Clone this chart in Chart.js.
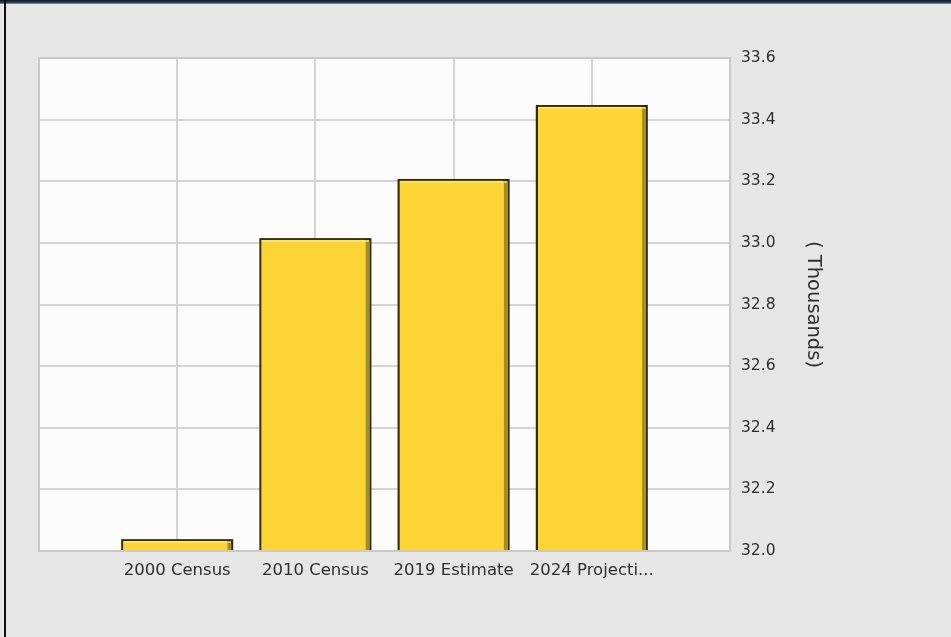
<!DOCTYPE html>
<html>
<head>
<meta charset="utf-8">
<script src="https://cdn.jsdelivr.net/npm/chart.js@4"></script>
<style>
  html, body { margin: 0; padding: 0; background: #e6e6e6; }
  #wrap { position: relative; width: 951px; height: 637px; background: #e6e6e6; overflow: hidden; }
  #topbar { position: absolute; left: 0; top: 0; width: 951px; height: 4px;
            background: linear-gradient(#0e1a26, #2a3c50 60%, #8a9aae); }
  #leftbar { position: absolute; left: 4px; top: 0; width: 2px; height: 637px; background: #111; }
  canvas { position: absolute; left: 0; top: 0; }
</style>
</head>
<body>
<div id="wrap">
  <canvas id="c" width="951" height="637"></canvas>
  <div id="topbar"></div>
  <div id="leftbar"></div>
</div>
<script>
// Data (values in thousands)
const categories = ["", "2000 Census", "2010 Census", "2019 Estimate", "2024 Projecti...", ""];
const populationThousands = [null, 32.036, 33.013, 33.205, 33.445, null];
const yTicks = [32.0, 32.2, 32.4, 32.6, 32.8, 33.0, 33.2, 33.4, 33.6];
const yAxisTitle = "( Thousands)";

// 3D-style shading on the right edge of each bar, drawn from the bar elements' own geometry
const barShade = {
  id: 'barShade',
  afterDatasetsDraw(chart) {
    const ctx = chart.ctx;
    const a = chart.chartArea;
    const meta = chart.getDatasetMeta(0);
    const values = chart.data.datasets[0].data;
    ctx.save();
    ctx.beginPath();
    ctx.rect(a.left, a.top, a.right - a.left, a.bottom - a.top);
    ctx.clip();
    meta.data.forEach((bar, i) => {
      if (values[i] == null) return;
      const p = bar.getProps(['x', 'y', 'base', 'width'], true);
      const left = p.x - p.width / 2;
      const right = p.x + p.width / 2;
      const top = p.y;
      const bottom = Math.min(p.base, a.bottom) + 2;
      ctx.fillStyle = '#a88f14';
      ctx.fillRect(right - 5, top + 3, 4, bottom - top - 3);
      ctx.fillStyle = '#fde56a';
      ctx.fillRect(left + 1.5, top + 1, right - left - 7, 2);
      ctx.strokeStyle = '#2e2a18';
      ctx.lineWidth = 1.5;
      ctx.strokeRect(left, top, right - left, bottom - top);
    });
    ctx.restore();
  }
};

const plotBg = {
  id: 'plotBg',
  beforeDraw(chart) {
    const { ctx, chartArea: a } = chart;
    ctx.save();
    ctx.fillStyle = '#fdfcfd';
    ctx.fillRect(a.left, a.top, a.right - a.left, a.bottom - a.top);
    ctx.restore();
  },
  afterDraw(chart) {
    const { ctx, chartArea: a } = chart;
    ctx.save();
    ctx.strokeStyle = '#c9c9c9';
    ctx.lineWidth = 2;
    ctx.strokeRect(a.left, a.top, a.right - a.left, a.bottom - a.top);
    ctx.restore();
  }
};

new Chart(document.getElementById('c'), {
  type: 'bar',
  data: {
    labels: categories,
    datasets: [{
      data: populationThousands,
      backgroundColor: '#fcd535',
      borderColor: '#2e2a18',
      borderWidth: 1.5,
      barPercentage: 0.8,
      categoryPercentage: 1.0
    }]
  },
  plugins: [plotBg, barShade],
  options: {
    responsive: false,
    animation: false,
    events: [],
    layout: { padding: { left: 39, top: 58, right: 124, bottom: 46 } },
    plugins: { legend: { display: false }, tooltip: { enabled: false } },
    scales: {
      x: {
        offset: false,
        grid: { color: '#d4d4d4', lineWidth: 2, drawTicks: false, offset: false },
        border: { display: false },
        ticks: {
          padding: 10,
          color: '#2e2e2e',
          font: { family: 'DejaVu Sans', size: 16.5 },
          maxRotation: 0,
          autoSkip: false
        },
        afterFit(s) { s.height = 40; }
      },
      y: {
        position: 'right',
        min: 32.0,
        max: 33.6,
        afterBuildTicks(s) { s.ticks = yTicks.map(v => ({ value: v })); },
        grid: { color: '#d4d4d4', lineWidth: 2, drawTicks: false },
        border: { display: false },
        ticks: {
          padding: 11,
          color: '#2e2e2e',
          font: { family: 'DejaVu Sans', size: 15.5 },
          callback: v => Number(v).toFixed(1)
        },
        title: {
          display: true,
          text: yAxisTitle,
          color: '#2e2e2e',
          font: { family: 'DejaVu Sans', size: 19.5 },
          padding: { top: 2, bottom: 2 }
        },
        afterFit(s) { s.width = 97; }
      }
    }
  }
});
</script>
</body>
</html>
